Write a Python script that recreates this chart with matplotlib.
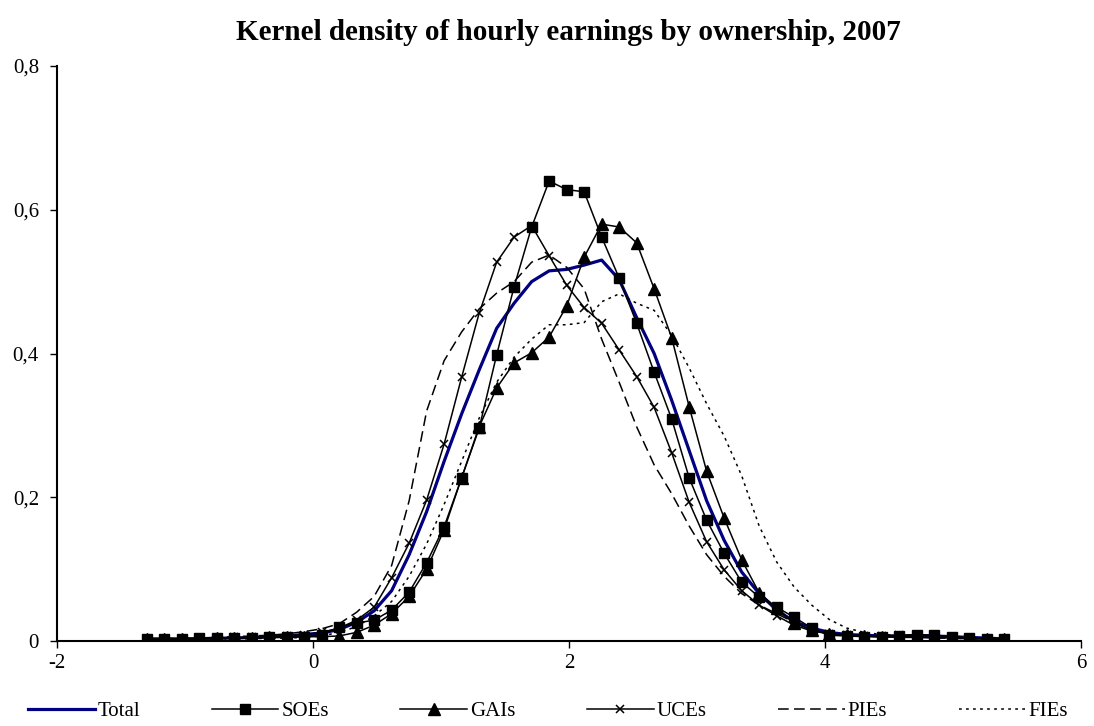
import numpy as np
import matplotlib
matplotlib.use("Agg")
import matplotlib.pyplot as plt
from matplotlib.ticker import FuncFormatter

# evaluation grid of the kernel density (50 points)
grid = np.linspace(-1.3, 5.4, 50)

total = [0.003, 0.003, 0.003, 0.003, 0.004, 0.004, 0.005, 0.006, 0.007, 0.009,
         0.011, 0.016, 0.026, 0.042, 0.070, 0.120, 0.180, 0.250, 0.316, 0.377,
         0.435, 0.470, 0.500, 0.515, 0.517, 0.523, 0.530, 0.503, 0.450, 0.400,
         0.335, 0.265, 0.195, 0.140, 0.096, 0.066, 0.043, 0.027, 0.018, 0.012,
         0.009, 0.008, 0.007, 0.007, 0.007, 0.007, 0.006, 0.005, 0.004, 0.003]

soes = [0.003, 0.003, 0.003, 0.004, 0.004, 0.004, 0.004, 0.005, 0.005, 0.006,
        0.009, 0.019, 0.025, 0.029, 0.043, 0.068, 0.109, 0.159, 0.227, 0.296,
        0.398, 0.493, 0.576, 0.640, 0.628, 0.625, 0.562, 0.505, 0.442, 0.374,
        0.309, 0.227, 0.168, 0.122, 0.082, 0.061, 0.047, 0.033, 0.018, 0.008,
        0.007, 0.006, 0.006, 0.007, 0.008, 0.008, 0.006, 0.004, 0.003, 0.003]

gais = [0.003, 0.003, 0.003, 0.003, 0.004, 0.004, 0.004, 0.005, 0.005, 0.006,
        0.006, 0.007, 0.012, 0.022, 0.038, 0.062, 0.100, 0.155, 0.227, 0.298,
        0.352, 0.387, 0.401, 0.423, 0.466, 0.534, 0.580, 0.576, 0.554, 0.490,
        0.422, 0.326, 0.236, 0.171, 0.113, 0.067, 0.046, 0.025, 0.015, 0.010,
        0.008, 0.007, 0.006, 0.006, 0.006, 0.005, 0.004, 0.003, 0.003, 0.003]

uces = [0.003, 0.003, 0.003, 0.004, 0.004, 0.005, 0.005, 0.006, 0.007, 0.009,
        0.012, 0.018, 0.029, 0.047, 0.088, 0.136, 0.196, 0.274, 0.367, 0.456,
        0.527, 0.562, 0.578, 0.536, 0.495, 0.464, 0.442, 0.405, 0.368, 0.325,
        0.262, 0.193, 0.138, 0.099, 0.070, 0.050, 0.035, 0.022, 0.014, 0.010,
        0.008, 0.007, 0.007, 0.008, 0.009, 0.008, 0.006, 0.004, 0.003, 0.003]

pies = [0.003, 0.003, 0.004, 0.004, 0.005, 0.006, 0.007, 0.008, 0.010, 0.013,
        0.017, 0.024, 0.040, 0.062, 0.105, 0.195, 0.320, 0.390, 0.430, 0.462,
        0.484, 0.500, 0.527, 0.537, 0.520, 0.490, 0.420, 0.360, 0.298, 0.245,
        0.205, 0.160, 0.120, 0.090, 0.066, 0.050, 0.038, 0.026, 0.017, 0.012,
        0.009, 0.007, 0.006, 0.005, 0.005, 0.004, 0.004, 0.003, 0.003, 0.003]

fies = [0.002, 0.002, 0.002, 0.003, 0.003, 0.003, 0.003, 0.004, 0.004, 0.005,
        0.007, 0.012, 0.020, 0.035, 0.055, 0.090, 0.135, 0.190, 0.250, 0.310,
        0.360, 0.395, 0.420, 0.440, 0.440, 0.443, 0.472, 0.483, 0.470, 0.460,
        0.425, 0.380, 0.330, 0.285, 0.230, 0.160, 0.110, 0.075, 0.050, 0.030,
        0.018, 0.012, 0.009, 0.008, 0.008, 0.007, 0.006, 0.005, 0.004, 0.003]

plt.rcParams['font.family'] = ['Liberation Serif', 'DejaVu Serif']
plt.rcParams['axes.unicode_minus'] = False

fig = plt.figure(figsize=(10.94, 7.26), dpi=100)
ax = fig.add_axes([57/1094, 85/726, 1024/1094, 575/726])

ax.plot(grid, total, color='#000080', lw=2.3, label='Total')
ax.plot(grid, soes, color='black', lw=1.1, marker='s', ms=7, label='SOEs')
ax.plot(grid, gais, color='black', lw=1.1, marker='^', ms=8, label='GAIs')
ax.plot(grid, uces, color='black', lw=1.1, marker='x', ms=6, mew=1.1, label='UCEs')
ax.plot(grid, pies, color='black', lw=1.1, dashes=(7, 3.5), label='PIEs')
ax.plot(grid, fies, color='black', lw=1.1, dashes=(1.8, 2.8), label='FIEs')

ax.set_xlim(-2, 6)
ax.set_ylim(0, 0.8)
ax.set_xticks([-2, 0, 2, 4, 6])
ax.set_yticks([0, 0.2, 0.4, 0.6, 0.8])
ax.yaxis.set_major_formatter(FuncFormatter(lambda v, p: ('%g' % v).replace('.', ',')))
ax.spines['top'].set_visible(False)
ax.spines['right'].set_visible(False)
ax.spines['left'].set_linewidth(1.5)
ax.spines['bottom'].set_linewidth(1.5)
ax.tick_params(direction='out', length=5, width=1, labelsize=15)
ax.tick_params(axis='y', pad=8)
ax.tick_params(axis='x', pad=4)

fig.suptitle('Kernel density of hourly earnings by ownership, 2007',
             x=568/1094, y=1 - 33/726, va='center', fontsize=21, fontweight='bold')

fig.legend(loc='center left', bbox_to_anchor=(28/1094, 1 - 711/726, 1040/1094, 0),
           mode='expand', ncol=6, frameon=False, fontsize=15, handlelength=3.2,
           handletextpad=0.15, borderpad=0, borderaxespad=0)

fig.savefig('out.png', dpi=100)
